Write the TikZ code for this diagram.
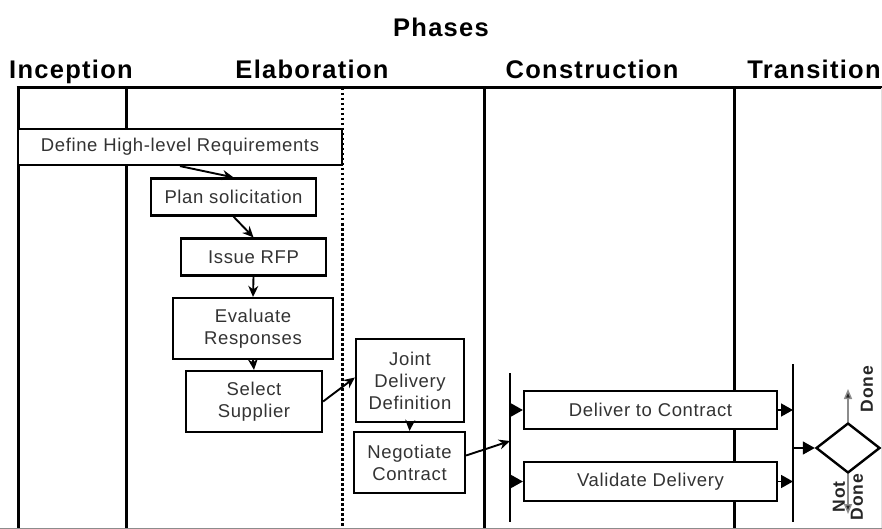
\documentclass[tikz,border=0pt]{standalone}
\usepackage{fontspec}
\setmainfont{Liberation Sans}
\newfontfamily\boxfont[LetterSpace=3.4]{Liberation Sans}
\newfontfamily\headfont[LetterSpace=5]{Liberation Sans}
\usetikzlibrary{arrows.meta,shapes.geometric}

\begin{document}
\begin{tikzpicture}[x=1pt,y=-1pt,
  frame/.style={line width=3pt},
  act/.style={draw, line width=2.2pt, fill=white, text=black!80, align=center,
    inner sep=0pt, font=\boxfont\fontsize{18.5}{22}\selectfont},
  flow/.style={line width=1.9pt, -{Stealth[length=11pt,width=10pt]}},
  bar/.style={line width=1.8pt},
  tri/.style={line width=1.6pt, -{Triangle[length=12pt,width=13pt]}},
  exit/.style={line width=1.5pt, draw=black!45, -{Triangle[length=10pt,width=8pt,fill=black!85]}},
  head/.style={anchor=base, inner sep=0pt, font=\headfont\bfseries\fontsize{25.5}{28}\selectfont},
  lbl/.style={rotate=90, align=center, text=black!85, font=\headfont\bfseries\fontsize{17.5}{18}\selectfont}
]
\useasboundingbox (0,0) rectangle (882,529);

% headings
\node[head] (phases) at (441,37) {Phases};
\node[head] (hinc) at (71,79) {Inception};
\node[head] (helab) at (312,79) {Elaboration};
\node[head] (hcons) at (592,79) {Construction};
\node[head] (htrans) at (814,79) {Transition};

% phase grid
\draw[frame] (16.5,88) -- (882,88);
\draw[frame] (18,88) -- (18,529);
\draw[frame] (126,88) -- (126,529);
\draw[line width=3pt, dash pattern=on 2.5pt off 2.5pt] (342,88) -- (342,529);
\draw[frame] (484,88) -- (484,529);
\draw[frame] (734,88) -- (734,529);
\draw[black!12, line width=1pt] (881,88) -- (881,529);
\draw[black!45, line width=1pt] (0,528.5) -- (882,528.5);

% activities
\node[act, minimum width=324, minimum height=36] (def) at (180,147) {Define High-level Requirements};
\node[act, minimum width=165, minimum height=37] (plan) at (233.5,197) {Plan solicitation};
\node[act, minimum width=145, minimum height=37] (rfp) at (253.5,257) {Issue RFP};
\node[act, minimum width=160, minimum height=61] (eval) at (253,328.5) {Evaluate\\Responses};
\node[act, minimum width=136, minimum height=61] (sel) at (254,401.5) {Select\\Supplier};
\node[act, minimum width=108, minimum height=83] (joint) at (410,380.5) {Joint\\Delivery\\Definition};
\node[act, minimum width=111, minimum height=61] (neg) at (409.5,462.5) {Negotiate\\Contract};
\node[act, minimum width=253, minimum height=38] (deliv) at (650.5,410) {Deliver to Contract};
\node[act, minimum width=253, minimum height=39] (valid) at (650.5,481.5) {Validate Delivery};
\node[draw, line width=2.4pt, fill=white, shape=diamond, aspect=1.28, inner sep=0pt,
  minimum width=64, minimum height=50] (dec) at (848,448) {};

% fork and join bars
\coordinate (ftop) at (510,373);
\coordinate (fbot) at (510,522);
\coordinate (fin) at (510,441);
\coordinate (jtop) at (793,364);
\coordinate (jbot) at (793,522);
\draw[bar] (ftop) -- (fbot);
\draw[bar] (jtop) -- (jbot);

% control flow
\draw[flow] (def.south) -- (plan.north);
\draw[flow] (plan.south) -- (rfp.north);
\draw[flow] (rfp.south) -- (eval.north);
\draw[flow] (eval.south) -- (sel.north);
\draw[flow] (sel.east) -- ([yshift=3pt]joint.west);
\draw[flow] (joint.south) -- (neg.north);
\draw[flow] ([yshift=7pt]neg.east) -- (fin);
\draw[tri] (deliv.west -| ftop) -- (deliv.west);
\draw[tri] (valid.west -| ftop) -- (valid.west);
\draw[tri] (deliv.east) -- (deliv.east -| jtop);
\draw[tri] (valid.east) -- (valid.east -| jtop);
\draw[tri] (dec.west -| jtop) -- (dec.west);

% decision outcomes
\coordinate (doneend) at (848,389);
\coordinate (notend) at (848,514);
\draw[exit] (dec.north) -- (doneend);
\draw[exit] (dec.south) -- (notend);
\node[lbl] (done) at (867,389) {Done};
\node[lbl] (notdone) at (848,497) {Not\\Done};
\end{tikzpicture}
\end{document}
